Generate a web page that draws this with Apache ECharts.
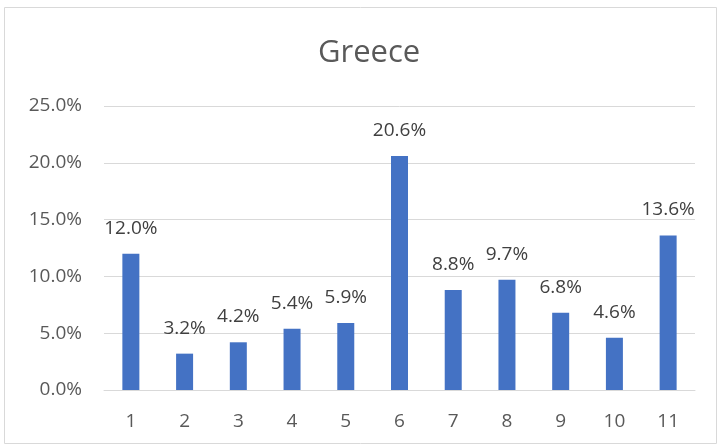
<!DOCTYPE html>
<html>
<head>
<meta charset="utf-8">
<script src="https://cdn.jsdelivr.net/npm/echarts@6/dist/echarts.min.js"></script>
<style>
  html, body { margin: 0; padding: 0; background: #fff; }
  #main { width: 718px; height: 448px; }
</style>
</head>
<body>
<div id="main"></div>
<script>
  // categories and values (percent)
  var categories = ['1', '2', '3', '4', '5', '6', '7', '8', '9', '10', '11'];
  var shares = [12.0, 3.2, 4.2, 5.4, 5.9, 20.6, 8.8, 9.7, 6.8, 4.6, 13.6];
  var yTicks = [0, 5, 10, 15, 20, 25];

  var myChart = echarts.init(document.getElementById('main'));
  myChart.setOption({
    animation: false,
    title: {
      text: 'Greece',
      left: 313,
      top: 33,
      textStyle: {
        fontFamily: 'Open Sans',
        fontSize: 31,
        fontWeight: 'normal',
        color: '#595959'
      }
    },
    graphic: [{
      type: 'rect',
      shape: { x: 4.5, y: 7.5, width: 712, height: 436 },
      style: { fill: 'none', stroke: '#d9d9d9', lineWidth: 1 },
      silent: true
    }],
    grid: {
      left: 104,
      right: 23,
      top: 106,
      bottom: 58
    },
    xAxis: {
      type: 'category',
      data: categories,
      axisTick: { show: false },
      axisLine: { lineStyle: { color: '#d9d9d9', width: 1 } },
      axisLabel: {
        margin: 22,
        fontFamily: 'Open Sans',
        fontSize: 19,
        color: '#595959'
      }
    },
    yAxis: {
      type: 'value',
      min: yTicks[0],
      max: yTicks[yTicks.length - 1],
      interval: 5,
      axisLine: { show: false },
      axisTick: { show: false },
      splitLine: { lineStyle: { color: '#d9d9d9', width: 1 } },
      axisLabel: {
        margin: 22,
        fontFamily: 'Open Sans',
        fontSize: 19,
        color: '#595959',
        formatter: function (v) { return v.toFixed(1) + '%'; }
      }
    },
    series: [{
      type: 'bar',
      data: shares,
      barWidth: 17,
      itemStyle: { color: '#4472C4' },
      label: {
        show: true,
        position: 'top',
        distance: 16,
        fontFamily: 'Open Sans',
        fontSize: 19,
        color: '#404040',
        formatter: function (p) { return p.value.toFixed(1) + '%'; }
      }
    }]
  });
</script>
</body>
</html>
